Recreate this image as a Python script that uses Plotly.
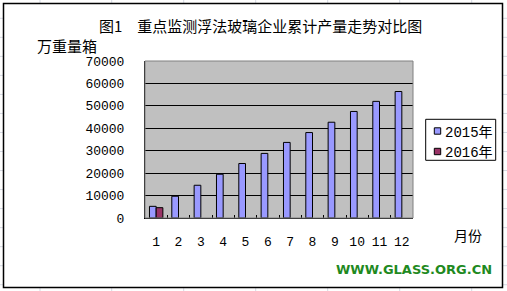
import plotly.graph_objects as go

months = ["1", "2", "3", "4", "5", "6", "7", "8", "9", "10", "11", "12"]
series_names = ["2015年", "2016年"]
values_2015 = [5200, 9700, 14600, 19500, 24300, 28800, 33700, 38100, 42700, 47500, 52000, 56400]
values_2016 = [4600, None, None, None, None, None, None, None, None, None, None, None]
y_ticks = [0, 10000, 20000, 30000, 40000, 50000, 60000, 70000]

title_text = "图1　重点监测浮法玻璃企业累计产量走势对比图"
y_unit = "万重量箱"
x_unit = "月份"
watermark = "WWW.GLASS.ORG.CN"

colors = ["#9999ff", "#993366"]

W, H = 507, 291
L, R, T, B = 145, 413, 61, 218


def px(x):
    return (x - L) / (R - L)


def py(y):
    return (B - y) / (B - T)


CJK = "Noto Sans CJK SC"
MONO = "Liberation Mono, Noto Sans CJK SC"

fig = go.Figure()
for name, vals, c in zip(series_names, [values_2015, values_2016], colors):
    fig.add_trace(go.Bar(
        x=months, y=vals, name=name,
        marker=dict(color=c, line=dict(color="black", width=1)),
        showlegend=False,
    ))

shapes = []
# spreadsheet gridlines outside the chart
grid_c = "#d6d9e3"
for k in range(16):
    yy = 18.3 + 19.03 * k
    if yy > 287:
        continue
    shapes.append(dict(type="line", xref="paper", yref="paper", x0=px(0), x1=px(3), y0=py(yy), y1=py(yy),
                       line=dict(color=grid_c, width=1), layer="below"))
    shapes.append(dict(type="line", xref="paper", yref="paper", x0=px(503), x1=px(507), y0=py(yy), y1=py(yy),
                       line=dict(color=grid_c, width=1), layer="below"))
for xx in [40, 111.7, 183.7, 255.7, 327.7, 399.7, 471.7]:
    shapes.append(dict(type="line", xref="paper", yref="paper", x0=px(xx), x1=px(xx), y0=py(0), y1=py(3),
                       line=dict(color=grid_c, width=1), layer="below"))
    shapes.append(dict(type="line", xref="paper", yref="paper", x0=px(xx), x1=px(xx), y0=py(288), y1=py(291),
                       line=dict(color=grid_c, width=1), layer="below"))
# outer chart border
shapes.append(dict(type="rect", xref="paper", yref="paper", x0=px(3.5), x1=px(502.5), y0=py(3.5), y1=py(287.5),
                   line=dict(color="black", width=1.5), layer="below"))
# plot-area gray frame
shapes.append(dict(type="rect", xref="paper", yref="paper", x0=0, x1=1, y0=0, y1=1,
                   line=dict(color="#808080", width=1), layer="above"))

# custom legend
lx0, lx1, ly0, ly1 = 425.7, 495.7, 119.3, 160.3
shapes.append(dict(type="rect", xref="paper", yref="paper", x0=px(lx0), x1=px(lx1), y0=py(ly0), y1=py(ly1),
                   line=dict(color="black", width=1), fillcolor="white"))
annotations = []
for i, (name, c) in enumerate(zip(series_names, colors)):
    cy = 131.0 + 20.5 * i
    shapes.append(dict(type="rect", xref="paper", yref="paper", x0=px(434.3), x1=px(440.7),
                       y0=py(cy - 3.2), y1=py(cy + 3.2), line=dict(color="black", width=1), fillcolor=c))
    annotations.append(dict(text=name, xref="paper", yref="paper", x=px(443), y=py(cy + 1.5),
                            xanchor="left", yanchor="middle", showarrow=False,
                            font=dict(family=MONO, size=14, color="black")))

annotations += [
    dict(text=title_text, xref="paper", yref="paper", x=px(97), y=py(25), xanchor="left", yanchor="middle",
         showarrow=False, font=dict(family=CJK, size=15, color="black")),
    dict(text=y_unit, xref="paper", yref="paper", x=px(35), y=py(45), xanchor="left", yanchor="middle",
         showarrow=False, font=dict(family=CJK, size=15, color="black")),
    dict(text=x_unit, xref="paper", yref="paper", x=px(452), y=py(235), xanchor="left", yanchor="middle",
         showarrow=False, font=dict(family=CJK, size=14, color="black")),
    dict(text="<b>" + watermark + "</b>", xref="paper", yref="paper", x=px(414), y=py(269.5),
         xanchor="center", yanchor="middle", showarrow=False,
         font=dict(family="DejaVu Sans", size=13, color="#1f8a1f")),
]

fig.update_layout(
    width=W, height=H,
    margin=dict(l=L, r=W - R, t=T, b=H - B, pad=0),
    paper_bgcolor="white",
    plot_bgcolor="#c0c0c0",
    barmode="group",
    bargap=0.4,
    bargroupgap=0,
    shapes=shapes,
    annotations=annotations,
    showlegend=False,
    xaxis=dict(
        type="category", showgrid=False, showline=True, linecolor="black", linewidth=1,
        ticks="inside", ticklen=3, tickcolor="black", tickson="boundaries",
        tickfont=dict(family=MONO, size=13, color="black"), tickangle=0,
        ticklabelstandoff=11, fixedrange=True,
    ),
    yaxis=dict(
        range=[0, 70000], tickvals=y_ticks, ticktext=[str(v) for v in y_ticks],
        showgrid=True, gridcolor="black", gridwidth=1, zeroline=False,
        showline=True, linecolor="black", linewidth=1, ticks="",
        tickfont=dict(family=MONO, size=13, color="black"),
        ticklabelstandoff=17, fixedrange=True,
    ),
)

fig.write_html("out.html")
